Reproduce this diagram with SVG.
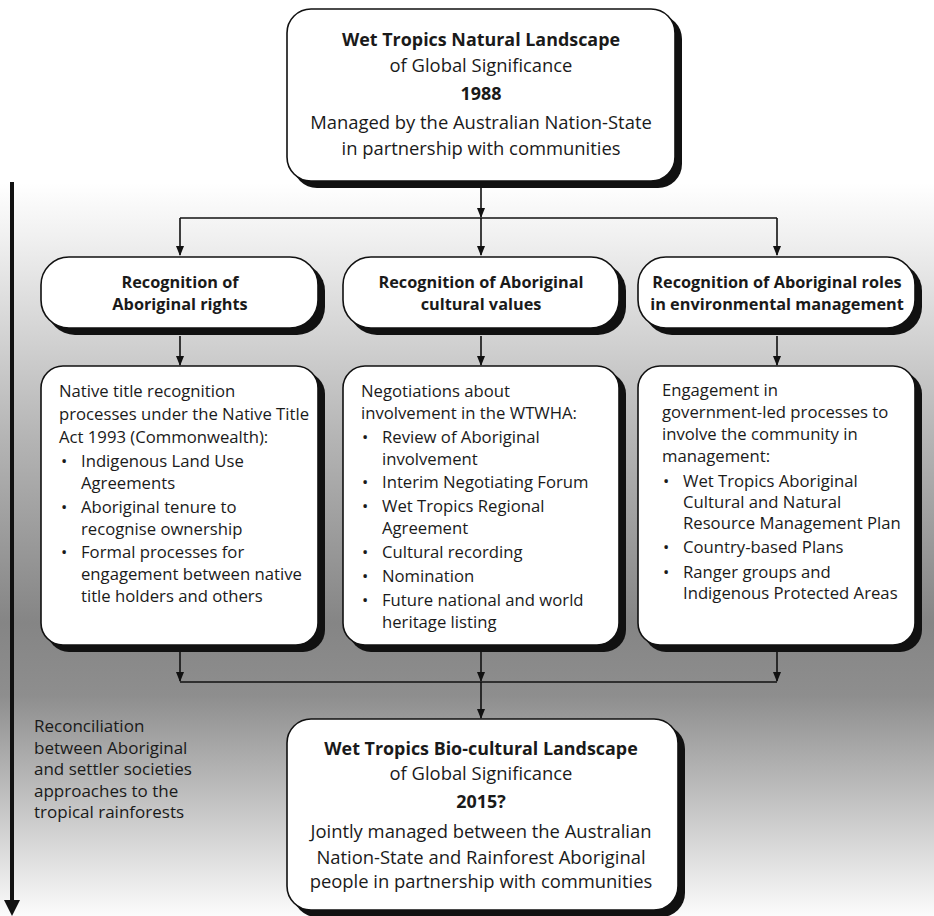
<svg xmlns="http://www.w3.org/2000/svg" width="934" height="916" viewBox="0 0 934 916">
<defs>
<linearGradient id="bg" x1="0" y1="183" x2="0" y2="916" gradientUnits="userSpaceOnUse">
<stop offset="0" stop-color="#ffffff"/>
<stop offset="0.08" stop-color="#efefef"/>
<stop offset="0.35" stop-color="#b4b4b4"/>
<stop offset="0.6" stop-color="#858585"/>
<stop offset="0.7" stop-color="#8e8e8e"/>
<stop offset="0.86" stop-color="#c8c8c8"/>
<stop offset="1" stop-color="#fbfbfb"/>
</linearGradient>
<marker id="ah" markerWidth="10" markerHeight="8" refX="9" refY="4" orient="auto" markerUnits="userSpaceOnUse">
<path d="M0,0 L10,4 L0,8 Z" fill="#111"/>
</marker>
<style>
.box{fill:#fff;stroke:#111;stroke-width:1.6}
.sh{fill:#111}
.t{font-family:"Open Sans","Liberation Sans",sans-serif;fill:#1a1a1a}
.c{text-anchor:middle}
.b{font-weight:bold}
.big{font-size:18.4px}
.bt{font-size:17.9px;font-weight:bold}
.hd{font-size:16.3px;font-weight:bold}
.bd{font-size:16.7px}
.lt{font-size:17px}
.conn{fill:none;stroke:#111;stroke-width:1.6}
</style>
</defs>
<rect x="0" y="183" width="934" height="733" fill="url(#bg)"/>

<g id="timeline">
<line x1="12" y1="182" x2="12" y2="902" stroke="#111" stroke-width="4"/>
<polygon points="4,900 20,900 12,916" fill="#111"/>
<text class="t lt" x="34" y="732">Reconciliation</text>
<text class="t lt" x="34" y="754">between Aboriginal</text>
<text class="t lt" x="34" y="775">and settler societies</text>
<text class="t lt" x="34" y="797">approaches to the</text>
<text class="t lt" x="34" y="818">tropical rainforests</text>
</g>

<g id="connectors">
<path class="conn" d="M481,188 V217" marker-end="url(#ah)"/>
<path class="conn" d="M180,218 H777"/>
<path class="conn" d="M180,218 V255" marker-end="url(#ah)"/>
<path class="conn" d="M481,218 V255" marker-end="url(#ah)"/>
<path class="conn" d="M777,218 V255" marker-end="url(#ah)"/>
<path class="conn" d="M180,336 V365" marker-end="url(#ah)"/>
<path class="conn" d="M481,336 V365" marker-end="url(#ah)"/>
<path class="conn" d="M777,336 V365" marker-end="url(#ah)"/>
<path class="conn" d="M180,652 V681" marker-end="url(#ah)"/>
<path class="conn" d="M481,652 V681" marker-end="url(#ah)"/>
<path class="conn" d="M777,652 V681" marker-end="url(#ah)"/>
<path class="conn" d="M180,682 H777"/>
<path class="conn" d="M481,682 V718" marker-end="url(#ah)"/>
</g>

<g id="top">
<rect class="sh" x="293" y="15" width="389" height="173" rx="24"/>
<rect class="box" x="287" y="9" width="388" height="172" rx="24"/>
<text class="t c bt" x="481" y="46">Wet Tropics Natural Landscape</text>
<text class="t c big" x="481" y="72">of Global Significance</text>
<text class="t c bt" x="481" y="100">1988</text>
<text class="t c big" x="481" y="129">Managed by the Australian Nation-State</text>
<text class="t c big" x="481" y="155">in partnership with communities</text>
</g>

<g id="h1">
<rect class="sh" x="47" y="263" width="278" height="72" rx="28"/>
<rect class="box" x="41" y="257" width="277" height="71" rx="28"/>
<text class="t c hd" x="180" y="288">Recognition of</text>
<text class="t c hd" x="180" y="310">Aboriginal rights</text>
</g>
<g id="h2">
<rect class="sh" x="349" y="263" width="277" height="72" rx="28"/>
<rect class="box" x="343" y="257" width="276" height="71" rx="28"/>
<text class="t c hd" x="481" y="288">Recognition of Aboriginal</text>
<text class="t c hd" x="481" y="310">cultural values</text>
</g>
<g id="h3">
<rect class="sh" x="644" y="263" width="278" height="72" rx="28"/>
<rect class="box" x="638" y="257" width="277" height="71" rx="28"/>
<text class="t c hd" x="777" y="288">Recognition of Aboriginal roles</text>
<text class="t c hd" x="777" y="310">in environmental management</text>
</g>

<g id="b1">
<rect class="sh" x="47" y="372" width="278" height="280" rx="22"/>
<rect class="box" x="41" y="366" width="277" height="279" rx="22"/>
<text class="t bd" x="59" y="397">Native title recognition</text>
<text class="t bd" x="59" y="420">processes under the Native Title</text>
<text class="t bd" x="59" y="443">Act 1993 (Commonwealth):</text>
<text class="t bd" x="61" y="467">•</text><text class="t bd" x="81" y="467">Indigenous Land Use</text>
<text class="t bd" x="81" y="489">Agreements</text>
<text class="t bd" x="61" y="513">•</text><text class="t bd" x="81" y="513">Aboriginal tenure to</text>
<text class="t bd" x="81" y="535">recognise ownership</text>
<text class="t bd" x="61" y="558">•</text><text class="t bd" x="81" y="558">Formal processes for</text>
<text class="t bd" x="81" y="580">engagement between native</text>
<text class="t bd" x="81" y="602">title holders and others</text>
</g>

<g id="b2">
<rect class="sh" x="349" y="372" width="277" height="280" rx="22"/>
<rect class="box" x="343" y="366" width="276" height="279" rx="22"/>
<text class="t bd" x="361" y="397">Negotiations about</text>
<text class="t bd" x="361" y="419">involvement in the WTWHA:</text>
<text class="t bd" x="362" y="443">•</text><text class="t bd" x="382" y="443">Review of Aboriginal</text>
<text class="t bd" x="382" y="465">involvement</text>
<text class="t bd" x="362" y="488">•</text><text class="t bd" x="382" y="488">Interim Negotiating Forum</text>
<text class="t bd" x="362" y="512">•</text><text class="t bd" x="382" y="512">Wet Tropics Regional</text>
<text class="t bd" x="382" y="534">Agreement</text>
<text class="t bd" x="362" y="558">•</text><text class="t bd" x="382" y="558">Cultural recording</text>
<text class="t bd" x="362" y="582">•</text><text class="t bd" x="382" y="582">Nomination</text>
<text class="t bd" x="362" y="606">•</text><text class="t bd" x="382" y="606">Future national and world</text>
<text class="t bd" x="382" y="628">heritage listing</text>
</g>

<g id="b3">
<rect class="sh" x="644" y="372" width="278" height="280" rx="22"/>
<rect class="box" x="638" y="366" width="277" height="279" rx="22"/>
<text class="t bd" x="662" y="396">Engagement in</text>
<text class="t bd" x="662" y="418">government-led processes to</text>
<text class="t bd" x="662" y="440">involve the community in</text>
<text class="t bd" x="662" y="462">management:</text>
<text class="t bd" x="663" y="487">•</text><text class="t bd" x="683" y="487">Wet Tropics Aboriginal</text>
<text class="t bd" x="683" y="508">Cultural and Natural</text>
<text class="t bd" x="683" y="529">Resource Management Plan</text>
<text class="t bd" x="663" y="553">•</text><text class="t bd" x="683" y="553">Country-based Plans</text>
<text class="t bd" x="663" y="578">•</text><text class="t bd" x="683" y="578">Ranger groups and</text>
<text class="t bd" x="683" y="599">Indigenous Protected Areas</text>
</g>

<g id="bottom">
<rect class="sh" x="293" y="725" width="392" height="192" rx="24"/>
<rect class="box" x="287" y="719" width="391" height="191" rx="24"/>
<text class="t c bt" x="481" y="755">Wet Tropics Bio-cultural Landscape</text>
<text class="t c big" x="481" y="780">of Global Significance</text>
<text class="t c bt" x="481" y="808">2015?</text>
<text class="t c big" x="481" y="838">Jointly managed between the Australian</text>
<text class="t c big" x="481" y="864">Nation-State and Rainforest Aboriginal</text>
<text class="t c big" x="481" y="888">people in partnership with communities</text>
</g>
</svg>
